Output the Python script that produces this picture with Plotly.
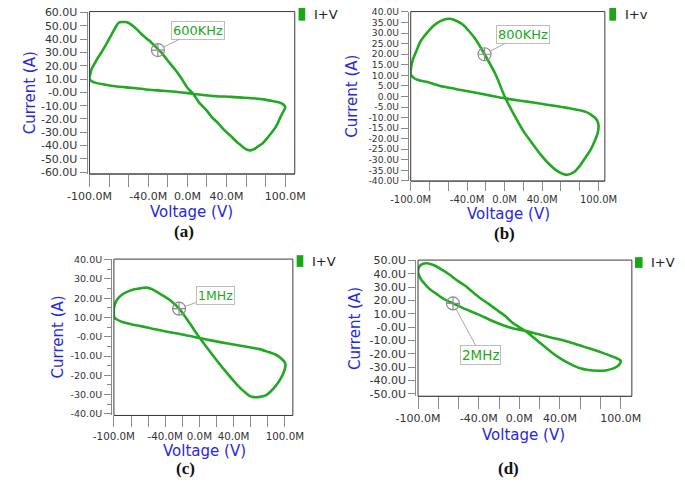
import plotly.graph_objects as go

W, H = 685, 483

# ---------------- data (Voltage in mV, Current in uA) ----------------
a_v = [-100, -99.5, -97.7, -94.5, -91.2, -87, -83.1, -79, -75, -72.5, -70.2, -67, -63.7, -60.5, -58.8,
       -52, -45.9, -39, -32.9, -26, -19.9, -13, -7, 0, 6, 12, 19, 25, 31.9, 38, 44.9, 50, 54.6, 58,
       61.1, 64.5, 67.6, 72, 77.3, 82, 87, 91.5, 95.1, 98, 100, 99.5, 96.8, 92, 87, 78, 70, 57.9, 45,
       25.4, 10, 0.5, -12, -25, -39.4, -55, -71.8, -85, -94.5, -97.5, -99.4, -100]
a_i = [11, 12.8, 17.7, 22, 26.2, 31, 35.8, 41.3, 46.7, 50, 52.3, 52.8, 52.8, 52.3, 51.6,
       47.6, 43.1, 38.9, 34.6, 29.5, 23.7, 17.5, 11.6, 3.5, -1.2, -7.7, -13, -18.6, -23.5, -28.6, -33.2,
       -37, -39.7, -41.8, -43.1, -43.6, -42.9, -40.8, -38, -34, -29.5, -24.5, -18.6, -14.5, -11.4, -10.3,
       -8.5, -7.3, -6.5, -5.3, -4.6, -4.1, -3.4, -2.7, -1.4, -0.6, 0.4, 1.2, 1.9, 3.3, 4.4, 5.9, 7.3,
       8.2, 9.2, 11]

b_v = [-100, -99.5, -98, -94, -88.9, -82, -75.4, -68, -62, -56.8, -50, -45, -38, -31.5, -21.4, -9.6,
       0.5, 12.3, 20, 29.2, 38, 46, 55, 62.9, 68, 74, 79.8, 86, 91.6, 96, 99, 100, 99.5, 98, 94, 86.5,
       66.3, 45, 32.5, 15, 0.5, -15, -34.9, -50, -61.9, -68.6, -82.1, -92.2, -97, -100]
b_i = [10.4, 14, 17, 21.5, 26.6, 30.5, 33.6, 35.8, 36.7, 36.7, 35.5, 34.2, 31, 27.4, 20, 10.4,
       -0.5, -10.5, -16.4, -22.1, -27.3, -31.4, -35, -36.8, -37, -35.8, -33, -29, -25.2, -21, -17.5,
       -14.5, -12.5, -11, -9.3, -7.3, -5.4, -3.9, -3, -1.9, -0.9, 0.4, 2.1, 3.3, 4.4, 5, 6.8, 7.8, 8.9, 10.4]

c_v = [-100, -100, -97, -92, -85.9, -78, -71, -65, -61.7, -55, -48.7, -41, -33.8, -22.7, -11.5, 1.5,
       14.5, 29.4, 44.2, 52, 59.1, 64, 68.4, 73, 77.7, 83, 88.8, 94, 98.1, 100.3, 100.7, 99.5, 98.1,
       94, 88.8, 80, 70.3, 50, 33.1, 15, 1.5, -20, -41.3, -55, -67.3, -78, -85.9, -92, -97, -99.5, -100]
c_i = [10.9, 14.6, 18.8, 21.3, 23, 24.4, 25, 25.4, 25.5, 24.6, 23, 21, 18.8, 14.1, 7.1, -1.3,
       -8.9, -17.3, -24.9, -28.3, -30.8, -31.3, -31.3, -31, -30.4, -28.5, -25.7, -22.5, -19, -16,
       -14.8, -13, -12.3, -10.6, -9.2, -7.8, -6.4, -4.8, -3.5, -2, -0.8, 1.2, 2.9, 4.2, 5.4, 6.3, 7.1,
       8, 9.1, 10, 10.9]

d_v = [-100, -98.5, -95, -91, -87, -82.1, -76, -69.5, -62, -53.8, -46, -38.1, -30, -22.4, -14, -6.8,
       5.8, 21.5, 31, 40.3, 50, 59.2, 68, 78, 85, 90.6, 95, 98.4, 100, 98.4, 95, 90.6, 83, 74.9, 64,
       52.9, 42, 30.9, 18, 5.8, -6.8, -22.4, -41.3, -55, -65.5, -75, -82.1, -89, -94.7, -97.5, -99.4, -100]
d_i = [42, 45.5, 47.5, 47.8, 47, 45.6, 42.8, 39.6, 35.3, 31.1, 26.2, 21.4, 17.2, 12.9, 8.2, 3.2,
       -2.9, -12.6, -18.5, -23.5, -27.7, -30.8, -32.3, -32.8, -32.6, -31.6, -30.2, -28.4, -25.5, -24.3,
       -23.1, -21.8, -19.6, -17.5, -14.9, -12.1, -9.8, -7.8, -5.3, -2.9, -1, 3.2, 9.7, 14, 17.7, 21.2,
       25, 28.8, 33.5, 36.3, 39.6, 42]

x_ticks = [-100, -80, -60, -40, -20, 0, 20, 40, 60, 80, 100]
x_ticktext = ["-100.0M", "", "", "-40.0M", "", "0.0M", "", "40.0M", "", "", "100.0M"]

a_yticks = [-60, -50, -40, -30, -20, -10, 0, 10, 20, 30, 40, 50, 60]
a_yticktext = ["-60.0U", "-50.0U", "-40.0U", "-30.0U", "-20.0U", "-10.0U", "-0.0U",
               "10.0U", "20.0U", "30.0U", "40.0U", "50.0U", "60.0U"]
b_yticks = [-40, -35, -30, -25, -20, -15, -10, -5, 0, 5, 10, 15, 20, 25, 30, 35, 40]
b_yticktext = ["-40.0U", "-35.0U", "-30.0U", "-25.0U", "-20.0U", "-15.0U", "-10.0U", "-5.0U", "0.0U",
               "5.0U", "10.0U", "15.0U", "20.0U", "25.0U", "30.0U", "35.0U", "40.0U"]
c_yticks = [-40, -30, -20, -10, 0, 10, 20, 30, 40]
c_yticktext = ["-40.0U", "-30.0U", "-20.0U", "-10.0U", "-0.0U", "10.0U", "20.0U", "30.0U", "40.0U"]
d_yticks = [-50, -40, -30, -20, -10, 0, 10, 20, 30, 40, 50]
d_yticktext = ["-50.0U", "-40.0U", "-30.0U", "-20.0U", "-10.0U", "-0.0U",
               "10.0U", "20.0U", "30.0U", "40.0U", "50.0U"]

freq_labels = ["600KHz", "800KHz", "1MHz", "2MHz"]
freq_v = [-30.1, -21.4, -23.8, -65.5]
freq_i = [31.8, 20.0, 14.6, 17.7]
legend_names = ["I+V", "I+v", "I+V", "I+V"]
panel_names = ["(a)", "(b)", "(c)", "(d)"]

series_v = [a_v, b_v, c_v, d_v]
series_i = [a_i, b_i, c_i, d_i]
yticks = [a_yticks, b_yticks, c_yticks, d_yticks]
yticktexts = [a_yticktext, b_yticktext, c_yticktext, d_yticktext]

# ---------------- layout geometry (pixels) ----------------
# box: left, right, top, bottom
boxes = [(71, 287, 5.7, 171.7), (409, 613.3, 5.7, 179), (96.7, 285, 259, 419), (416.7, 641.7, 260, 399.3)]
xranges = [[-100, 109.7], [-100, 106.7], [-100, 109.3], [-100, 111]]
yranges = [[-61.2, 60.7], [-40, 40.2], [-40.8, 40.3], [-51.9, 50.2]]
xticklens = [12, 9, 11, 12]
tickfont_sizes = [11, 9.2, 9.5, 11]
minor_y = [False, False, True, False]
ann_offsets = [(40, -20), (38, -20), (36, -13), (28, 52)]
ann_fonts = [13, 13, 12.5, 13.5]
ytitle_pos = [(8, 88.7), (347, 92), (38, 339), (351, 330)]
xtitle_pos = [(178, 211), (512, 213), (192, 455), (528, 439)]
plabel_pos = [(170, 231), (508, 233), (172, 473), (512, 473)]
legend_rect = [(291, 298, 2, 15), (618, 625, 2, 15), (289, 296, 255, 267), (645, 653, 257, 268)]
legend_text_x = [305, 632, 303, 660]

GREEN = "#22a822"
BLUE = "#2828dc"
AXIS_GRAY = "#8a8a8a"

def px(x):
    return x / W

def py(y):
    return 1 - y / H

fig = go.Figure()
annotations = []
shapes = []

for k in range(4):
    n = "" if k == 0 else str(k + 1)
    xa, ya = "x" + n, "y" + n
    L, R, T, B = boxes[k]
    fig.add_trace(go.Scatter(x=series_v[k], y=series_i[k], xaxis=xa, yaxis=ya, mode="lines",
                             line=dict(color=GREEN, width=2.6, shape="spline", smoothing=0.7),
                             showlegend=False, hoverinfo="skip"))
    fig.add_trace(go.Scatter(x=[freq_v[k]], y=[freq_i[k]], xaxis=xa, yaxis=ya, mode="markers",
                             marker=dict(symbol="circle-cross-open", size=13, color="#8c8c8c",
                                         line=dict(width=1.2, color="#8c8c8c")),
                             showlegend=False, hoverinfo="skip"))
    tf = dict(family="DejaVu Sans", size=tickfont_sizes[k], color="#333333")
    xaxis = dict(domain=[px(L), px(R)], range=xranges[k], anchor=ya,
                 tickmode="array", tickvals=x_ticks, ticktext=x_ticktext,
                 ticks="outside", ticklen=xticklens[k], tickcolor=AXIS_GRAY, tickwidth=1,
                 showline=True, linecolor=AXIS_GRAY, linewidth=1, showgrid=False, zeroline=False,
                 tickfont=dict(family="DejaVu Sans", size=min(tickfont_sizes[k] + 0.8, 11), color="#333333"))
    yaxis = dict(domain=[py(B), py(T)], range=yranges[k], anchor="free", position=px(L - 3),
                 tickmode="array", tickvals=yticks[k], ticktext=yticktexts[k],
                 ticks="outside", ticklen=7, tickcolor=AXIS_GRAY, tickwidth=1,
                 showline=True, linecolor=AXIS_GRAY, linewidth=1, showgrid=False, zeroline=False,
                 tickfont=tf)
    if minor_y[k]:
        yaxis["minor"] = dict(dtick=5, tick0=0, ticks="outside", ticklen=4, tickcolor=AXIS_GRAY,
                              showgrid=False)
    fig.update_layout(**{"xaxis" + n: xaxis, "yaxis" + n: yaxis})

    # plot box
    shapes.append(dict(type="rect", xref="paper", yref="paper", x0=px(L), x1=px(R), y0=py(B), y1=py(T),
                       line=dict(color="#3a3a3a", width=1), fillcolor="rgba(0,0,0,0)", layer="above"))
    # legend swatch
    lx0, lx1, ly0, ly1 = legend_rect[k]
    shapes.append(dict(type="rect", xref="paper", yref="paper", x0=px(lx0), x1=px(lx1), y0=py(ly1),
                       y1=py(ly0), line=dict(width=0), fillcolor="#16a816"))
    annotations.append(dict(x=px(legend_text_x[k]), y=py((ly0 + ly1) / 2), xref="paper", yref="paper",
                            text=legend_names[k], showarrow=False, xanchor="left", yanchor="middle",
                            font=dict(family="DejaVu Sans", size=13, color="#222222")))
    # frequency callout
    ax, ay = ann_offsets[k]
    annotations.append(dict(x=freq_v[k], y=freq_i[k], xref=xa, yref=ya, text=freq_labels[k],
                            showarrow=True, arrowhead=0, arrowwidth=1, arrowcolor="#a8a8a8",
                            ax=ax, ay=ay, standoff=6,
                            font=dict(family="DejaVu Sans", size=ann_fonts[k], color=GREEN),
                            bgcolor="white", bordercolor="#bdbdbd", borderwidth=1, borderpad=1))
    # axis titles
    tx, ty = ytitle_pos[k]
    annotations.append(dict(x=px(tx), y=py(ty), xref="paper", yref="paper", text="Current (A)",
                            textangle=-90, showarrow=False, xanchor="center", yanchor="middle",
                            font=dict(family="DejaVu Sans", size=15, color=BLUE)))
    tx, ty = xtitle_pos[k]
    annotations.append(dict(x=px(tx), y=py(ty), xref="paper", yref="paper", text="Voltage (V)",
                            showarrow=False, xanchor="center", yanchor="middle",
                            font=dict(family="DejaVu Sans", size=15, color=BLUE)))
    tx, ty = plabel_pos[k]
    annotations.append(dict(x=px(tx), y=py(ty), xref="paper", yref="paper", text="<b>" + panel_names[k] + "</b>",
                            showarrow=False, xanchor="center", yanchor="middle",
                            font=dict(family="Liberation Serif", size=17, color="#111111")))

fig.update_layout(width=W, height=H, margin=dict(l=0, r=0, t=0, b=0),
                  paper_bgcolor="white", plot_bgcolor="white",
                  annotations=annotations, shapes=shapes, showlegend=False)

fig.write_html("out.html", config={"displayModeBar": False},
               post_script="document.body.style.margin='0px';document.body.style.overflow='hidden';")
